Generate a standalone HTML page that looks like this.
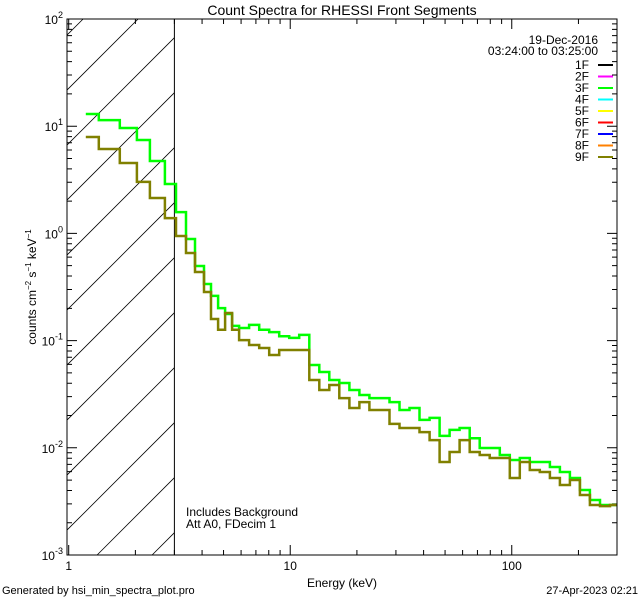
<!DOCTYPE html>
<html><head><meta charset="utf-8"><style>
body{margin:0;background:#fff;}
svg{display:block;font-family:"Liberation Sans",sans-serif;}
</style></head><body>
<svg id="chart" width="640" height="600" viewBox="0 0 640 600">
<rect width="640" height="600" fill="#fff"/>
<g id="hatch"></g>
<g id="ticks"></g>
<g id="series"></g>
<rect x="67" y="19" width="550" height="536" fill="none" stroke="#000" stroke-width="1"/>
<text x="342" y="15" font-size="14" text-anchor="middle">Count Spectra for RHESSI Front Segments</text>
<text x="342" y="587" font-size="12" text-anchor="middle">Energy (keV)</text>
<text transform="translate(36,287) rotate(-90)" font-size="12" text-anchor="middle">counts cm<tspan dy="-5" font-size="8">−2</tspan><tspan dy="5"> s</tspan><tspan dy="-5" font-size="8">−1</tspan><tspan dy="5"> keV</tspan><tspan dy="-5" font-size="8">−1</tspan></text>
<text x="186" y="516" font-size="12">Includes Background</text>
<text x="186" y="528" font-size="12">Att A0, FDecim 1</text>
<text x="2" y="594" font-size="11">Generated by hsi_min_spectra_plot.pro</text>
<text x="638" y="594" font-size="11" text-anchor="end">27-Apr-2023 02:21</text>
<text x="598" y="44" font-size="12" text-anchor="end">19-Dec-2016</text>
<text x="598" y="55" font-size="12" text-anchor="end">03:24:00 to 03:25:00</text>
<g id="legend"></g>
</svg>
<script>
const energyEdges=[1.194,1.367,1.701,2.031,2.326,2.719,3.050,3.384,3.717,4.082,4.390,4.724,5.080,5.468,5.877,6.524,7.240,8.035,8.918,9.897,10.98,12.19,13.53,15.01,16.66,18.49,20.52,22.78,25.28,28.05,31.13,34.55,38.35,42.56,47.23,52.42,58.18,64.57,71.66,79.53,88.27,97.95,108.7,120.6,133.9,148.6,164.9,183.0,203.1,225.4,250.2,277.6,298.6];
const greenVals=[13.0,11.4,9.62,7.43,4.74,2.89,1.58,0.887,0.497,0.337,0.261,0.201,0.177,0.137,0.131,0.140,0.126,0.120,0.110,0.106,0.113,0.0592,0.0509,0.0429,0.0402,0.0346,0.0311,0.0291,0.0291,0.0267,0.0225,0.0235,0.0182,0.0190,0.0129,0.0147,0.0153,0.0123,0.00996,0.00996,0.00857,0.00769,0.00804,0.00737,0.00737,0.00662,0.00595,0.00523,0.00404,0.00326,0.00293,0.00293];
const oliveVals=[7.93,6.13,4.54,3.02,2.14,1.39,0.946,0.656,0.436,0.284,0.159,0.126,0.181,0.126,0.101,0.0910,0.0853,0.0734,0.0817,0.0817,0.0817,0.0429,0.0346,0.0385,0.0291,0.0235,0.0267,0.0225,0.0225,0.0167,0.0153,0.0153,0.0140,0.0118,0.00737,0.00913,0.0118,0.00913,0.00857,0.00804,0.00804,0.00523,0.00737,0.00621,0.00595,0.00523,0.00450,0.00501,0.00363,0.00293,0.00286,0.00293];
const legendLabels=["1F","2F","3F","4F","5F","6F","7F","8F","9F"];
const legendColors=["#000000","#ff00ff","#00ff00","#00ffff","#ffff00","#ff0000","#0000ff","#ff8000","#808000"];
const yTickExps=[-3,-2,-1,0,1,2];
const xTickLabels=["10","100"];
const xTickVals=[10,100];

const NS="http://www.w3.org/2000/svg";
const L=67,R=617,T=19,B=555;
const xMin=Math.log10(0.9825),xMax=Math.log10(298.6);
function xs(e){return L+(Math.log10(e)-xMin)/(xMax-xMin)*(R-L);}
function ys(v){return B-(Math.log10(v)+3)/5*(B-T);}
function mk(tag,attrs,parent){const el=document.createElementNS(NS,tag);for(const k in attrs)el.setAttribute(k,attrs[k]);parent.appendChild(el);return el;}

const hatch=document.getElementById('hatch');
const hx=xs(3.0);
mk('line',{x1:hx,y1:T,x2:hx,y2:B,stroke:'#000','stroke-width':1},hatch);
let hd='';
for(let k=-3;k<14;k++){
  const yR=37.7+55*k;
  let x1=hx,y1=yR,x2=L,y2=yR+(hx-L);
  if(y1<T){x1=hx-(T-y1);y1=T;}
  if(y2>B){x2=L+(y2-B);y2=B;}
  if(x1<=x2||y1>B||y2<T)continue;
  hd+=`M${x1},${y1}L${x2},${y2}`;
}
const hp=mk('path',{d:hd,stroke:'#000','stroke-width':0.8,fill:'none'},hatch);



const tk=document.getElementById('ticks');
let td='';
for(let e=-3;e<=2;e++){
  const y=ys(Math.pow(10,e));
  td+=`M${L},${y}h10M${R},${y}h-10`;
  if(e<2)for(let m=2;m<=9;m++){const yy=ys(m*Math.pow(10,e));td+=`M${L},${yy}h5M${R},${yy}h-5`;}
}
for(let e=0;e<=2;e++){
  for(let m=1;m<=9;m++){
    const v=m*Math.pow(10,e);if(v<1||v>298)continue;
    const x=xs(v);const len=(m==1)?10:5;
    td+=`M${x},${B}v${-len}M${x},${T}v${len}`;
  }
}
mk('path',{d:td,stroke:'#000','stroke-width':1,fill:'none'},tk);
yTickExps.forEach(e=>{
  const t=mk('text',{x:L-4,y:ys(Math.pow(10,e))+5,'font-size':12,'text-anchor':'end'},tk);
  
  
  t.innerHTML=`10<tspan dy="-6" font-size="9">${e}</tspan>`;
});
xTickVals.forEach((v,i)=>{
  const t=mk('text',{x:xs(v),y:B+15,'font-size':12,'text-anchor':'middle'},tk);
  
  
  t.textContent=xTickLabels[i];
});
const t1=mk('text',{x:xs(1),y:B+15,'font-size':12,'text-anchor':'middle'},tk);


t1.textContent="1";

function stepPath(vals){
  let d='';
  for(let i=0;i<vals.length;i++){
    const x0=xs(energyEdges[i]),x1=xs(energyEdges[i+1]),y=ys(vals[i]);
    d+=(i==0?'M':'L')+x0.toFixed(1)+','+y.toFixed(1)+'L'+x1.toFixed(1)+','+y.toFixed(1);
  }
  return d;
}
const sg=document.getElementById('series');
const gp=mk('path',{d:stepPath(greenVals),stroke:'#00ff00','stroke-width':2.5,fill:'none'},sg);


const op=mk('path',{d:stepPath(oliveVals),stroke:'#808000','stroke-width':2.5,fill:'none'},sg);



const lg=document.getElementById('legend');
legendLabels.forEach((lab,i)=>{
  const y=65+i*11.5;
  const t=mk('text',{x:589,y:y+4,'font-size':12,'text-anchor':'end'},lg);
  
  
  t.textContent=lab;
  const l=mk('line',{x1:598,y1:y,x2:613,y2:y,stroke:legendColors[i],'stroke-width':2},lg);
  
  
});
</script>
</body></html>
